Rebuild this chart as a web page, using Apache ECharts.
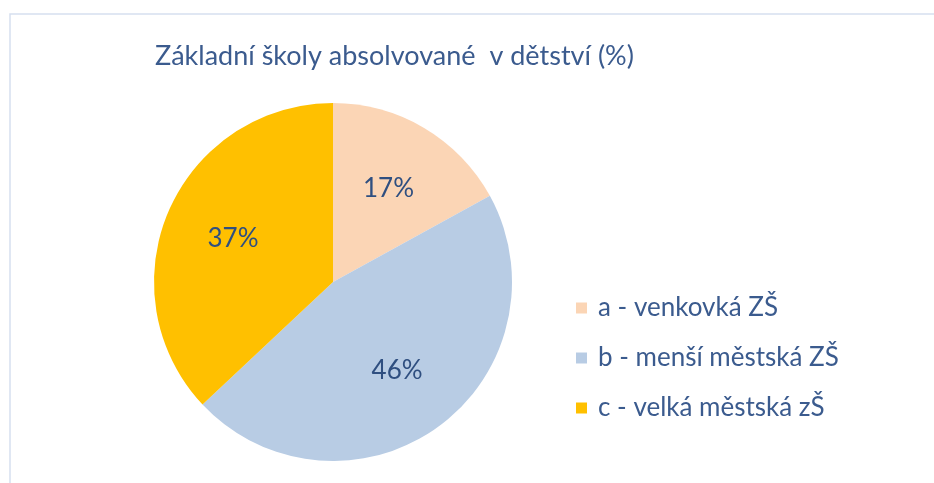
<!DOCTYPE html>
<html>
<head>
<meta charset="utf-8">
<script src="https://cdn.jsdelivr.net/npm/echarts@6/dist/echarts.min.js"></script>
<style>
  html, body { margin: 0; padding: 0; background: #fff; }
  #chart { width: 934px; height: 483px; }
</style>
</head>
<body>
<div id="chart"></div>
<script>
var titleText = 'Základní školy absolvované  v dětství (%)'
var categories = ['a - venkovká ZŠ', 'b - menší městská ZŠ', 'c - velká městská zŠ']
var shares = [17, 46, 37]
var colors = ['#FBD5B5', '#B8CCE4', '#FFC000']

var textColor = '#3B5B8E'
var labelColor = '#2F4F80'
var font = 'Lato, "Open Sans", sans-serif'

var pieData = categories.map(function (name, i) {
  return { name: name, value: shares[i], itemStyle: { color: colors[i] } }
})

var chart = echarts.init(document.getElementById('chart'))
chart.setOption({
  backgroundColor: '#fff',
  animation: false,
  graphic: [{
    type: 'rect',
    silent: true,
    shape: { x: 10, y: 14, width: 1000, height: 1000 },
    style: { fill: 'none', stroke: '#D6E0EF', lineWidth: 1.5 }
  }],
  title: {
    text: titleText,
    left: 150,
    top: 38,
    textStyle: { color: textColor, fontFamily: font, fontWeight: 'normal', fontSize: 27 }
  },
  legend: {
    orient: 'vertical',
    left: 571,
    top: 288,
    itemWidth: 11,
    itemHeight: 11,
    itemGap: 20,
    icon: 'rect',
    selectedMode: false,
    textStyle: { color: textColor, fontFamily: font, fontSize: 26, lineHeight: 30, padding: [0, 0, 0, 6] },
    data: categories
  },
  series: [{
    type: 'pie',
    center: [333, 282],
    radius: [0, 179],
    startAngle: 90,
    clockwise: true,
    label: { show: false },
    labelLine: { show: false },
    emphasis: { disabled: true },
    data: pieData
  }, {
    // transparent ring used only to place the percentage labels further out
    type: 'pie',
    center: [333, 282],
    radius: [52, 160],
    startAngle: 90,
    clockwise: true,
    silent: true,
    legendHoverLink: false,
    itemStyle: { color: 'rgba(0,0,0,0)' },
    label: {
      show: true,
      position: 'inside',
      formatter: '{c}%',
      color: labelColor,
      fontFamily: font,
      fontSize: 26
    },
    labelLine: { show: false },
    emphasis: { disabled: true },
    data: categories.map(function (name, i) { return { name: name + ' ', value: shares[i] } })
  }]
})
</script>
</body>
</html>
